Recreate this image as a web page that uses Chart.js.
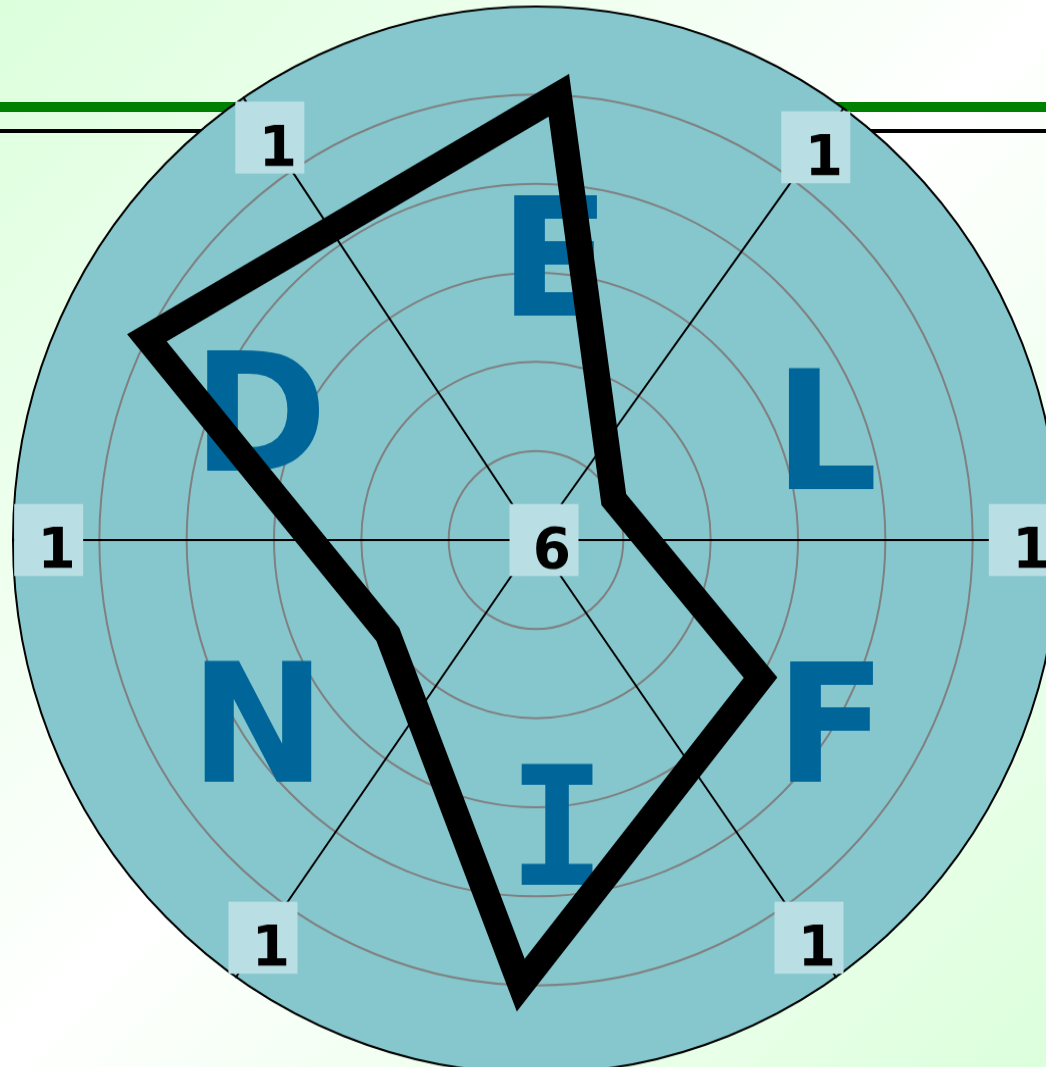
<!DOCTYPE html>
<html><head><meta charset="utf-8">
<script src="https://cdn.jsdelivr.net/npm/chart.js@4"></script>
<style>
html,body{margin:0;padding:0;width:1046px;height:1067px;overflow:hidden;}
body{background:linear-gradient(135deg,#dcffdc 0%,#ffffff 50%,#dcffdc 100%);position:relative;}
.gl{position:absolute;left:0;width:1046px;top:102px;height:10px;background:#008000;}
.bl{position:absolute;left:0;width:1046px;top:129px;height:4px;background:#000;}
#wrap{position:absolute;left:12px;top:16px;width:1048px;height:1048px;transform:scaleY(1.02);transform-origin:524px 524px;}
</style></head><body>
<div class="gl"></div><div class="bl"></div>
<div id="wrap"><canvas id="c" width="1048" height="1048"></canvas></div>
<script>
// ---- data ----
const categories = ['E', 'L', 'F', 'I', 'N', 'D'];
const values = [1, 5, 3, 1, 4, 1];
const spokeLabels = ['1', '1', '1', '1', '1', '1'];
const centerLabel = '6';
const scaleMin = 0, scaleMax = 6;

// ---- layout (not data) ----
const SLOTS = 360;                                   // 1 degree per slot
const catAngles = [3, 63, 121, 182, 238, 297];       // category directions, degrees clockwise from top
const spokeAngles = [36, 90, 145, 215, 270, 326];    // spoke directions
const spokeLabelAt = [0.55, 0.42, 0.55, 0.55, 0.42, 0.55]; // where along each spoke its label box sits (scale units)
const letterOffsets = [[19, -284], [290, -110], [295, 182], [21, 285], [-278, 182], [-276, -129]];
const STRETCH = 1.02;

const labels = new Array(SLOTS).fill('');
const data = new Array(SLOTS).fill(null);
categories.forEach((c, i) => { labels[catAngles[i]] = c; data[catAngles[i]] = values[i]; });
const spokeSlots = spokeAngles.slice();

const deco = {
  id: 'deco',
  beforeDraw(chart) {
    const s = chart.scales.r, ctx = chart.ctx;
    const R = s.getDistanceFromCenterForValue(scaleMin);
    ctx.save();
    ctx.beginPath();
    ctx.arc(s.xCenter, s.yCenter, R - 1, 0, Math.PI * 2);
    ctx.fillStyle = '#86c7ce';
    ctx.fill();
    ctx.lineWidth = 2;
    ctx.strokeStyle = '#000';
    ctx.stroke();
    ctx.restore();
  },
  beforeDatasetsDraw(chart) {
    const s = chart.scales.r, ctx = chart.ctx;
    ctx.save();
    categories.forEach((c, i) => {
      const size = 163;
      ctx.font = 'bold ' + size + 'px ' + (c === 'I' ? '"DejaVu Sans Mono"' : '"DejaVu Sans"');
      ctx.fillStyle = '#006699';
      ctx.textAlign = 'center';
      ctx.textBaseline = 'alphabetic';
      const o = letterOffsets[i];
      ctx.fillText(c, s.xCenter + o[0], s.yCenter + o[1] / STRETCH + 0.729 * size / 2 / STRETCH);
    });
    const box = (x, y, t) => {
      ctx.fillStyle = '#b9dfe4';
      ctx.fillRect(x - 34.5, y - 36 / STRETCH, 69, 72 / STRETCH);
      ctx.fillStyle = '#000';
      ctx.font = 'bold 55px "DejaVu Sans"';
      ctx.textAlign = 'center';
      ctx.textBaseline = 'alphabetic';
      ctx.fillText(t, x + 8, y + 28 / STRETCH);
    };
    spokeSlots.forEach((slot, k) => {
      const p = s.getPointPositionForValue(slot, spokeLabelAt[k]);
      box(p.x, p.y, spokeLabels[k]);
    });
    box(s.xCenter + 8, s.yCenter, centerLabel);
    ctx.restore();
  }
};

new Chart(document.getElementById('c'), {
  type: 'radar',
  data: {
    labels: labels,
    datasets: [{
      data: data,
      spanGaps: true,
      fill: false,
      backgroundColor: 'rgba(0,0,0,0)',
      borderColor: '#000',
      borderWidth: 26,
      borderJoinStyle: 'miter',
      pointRadius: 0,
      pointHoverRadius: 0,
      tension: 0
    }]
  },
  options: {
    responsive: false,
    animation: false,
    layout: { padding: 0 },
    plugins: { legend: { display: false }, tooltip: { enabled: false } },
    scales: {
      r: {
        min: scaleMin,
        max: scaleMax,
        reverse: true,
        startAngle: 0,
        ticks: { display: false, stepSize: 1, reverse: true },
        pointLabels: { display: false },
        grid: {
          circular: true,
          color: ctx => (ctx.tick && ctx.tick.value >= 1 && ctx.tick.value <= 5) ? '#808080' : 'rgba(0,0,0,0)',
          lineWidth: 2
        },
        angleLines: {
          display: true,
          color: ctx => spokeSlots.includes(ctx.index) ? '#000' : 'rgba(0,0,0,0)',
          lineWidth: ctx => spokeSlots.includes(ctx.index) ? 2 : 0
        }
      }
    }
  },
  plugins: [deco]
});
</script>
</body></html>
